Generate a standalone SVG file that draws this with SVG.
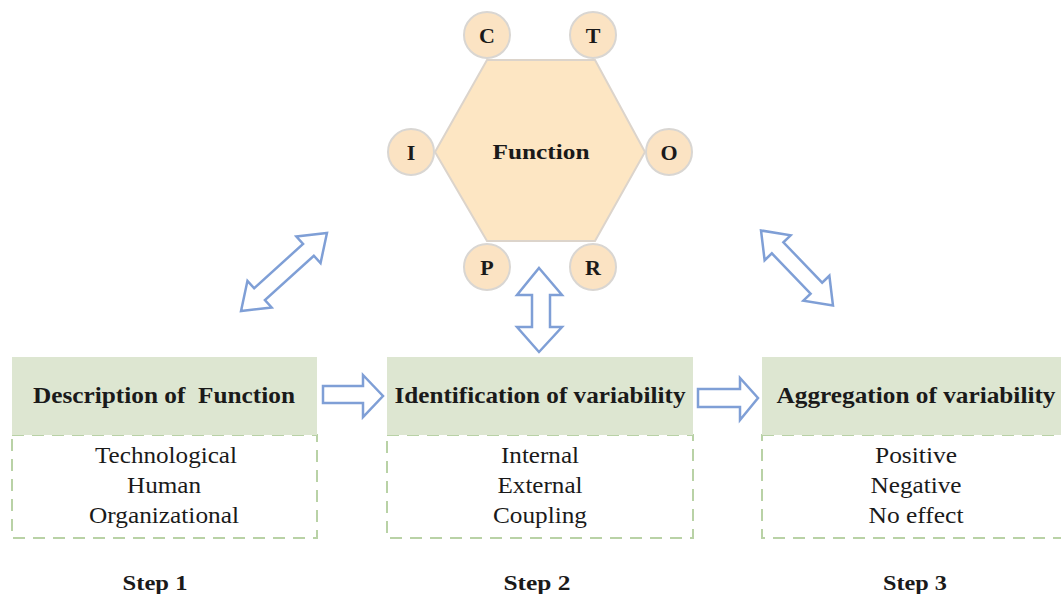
<svg xmlns="http://www.w3.org/2000/svg" width="1061" height="594" viewBox="0 0 1061 594">
<defs>
<style>
.hdr{fill:#dde6d1;stroke:none}
.dash{fill:#fff;stroke:#b9d2a6;stroke-width:2;stroke-dasharray:12 8}
.ht{font-family:"Liberation Serif",serif;font-weight:bold;font-size:23px;fill:#1a1a1a;text-anchor:middle}
.st{font-family:"Liberation Serif",serif;font-size:23px;fill:#1a1a1a;text-anchor:middle}
.step{font-family:"Liberation Serif",serif;font-weight:bold;font-size:22px;fill:#1a1a1a;text-anchor:middle}
.cir{fill:#fbe3c3;stroke:#d9d6d2;stroke-width:2}
.ct{font-family:"Liberation Serif",serif;font-weight:bold;font-size:22px;fill:#1a1a1a;text-anchor:middle}
.arr{fill:#fff;stroke:#7f9fd6;stroke-width:2.5;stroke-linejoin:miter}
</style>
</defs>
<rect width="1061" height="594" fill="#fff"/>
<g id="function">
<polygon points="487,60 595,60 645,152 595,241 487,241 435,152" fill="#fde6c3" stroke="#dcd4cb" stroke-width="2"/>
<text class="ct" x="541" y="159" textLength="97" lengthAdjust="spacingAndGlyphs">Function</text>
</g>
<g id="node-C"><circle class="cir" cx="487" cy="35" r="23"/><text class="ct" x="487" y="43">C</text></g>
<g id="node-T"><circle class="cir" cx="593" cy="35" r="23"/><text class="ct" x="593" y="43">T</text></g>
<g id="node-I"><circle class="cir" cx="411" cy="152" r="23"/><text class="ct" x="411" y="160">I</text></g>
<g id="node-O"><circle class="cir" cx="669" cy="152" r="23"/><text class="ct" x="669" y="160">O</text></g>
<g id="node-P"><circle class="cir" cx="487" cy="267" r="23"/><text class="ct" x="487" y="275">P</text></g>
<g id="node-R"><circle class="cir" cx="593" cy="267" r="23"/><text class="ct" x="593" y="275">R</text></g>

<g id="step1">
<rect class="dash" x="12" y="435" width="305" height="103"/>
<rect class="hdr" x="12" y="357" width="305" height="78"/>
<text class="ht" x="164" y="403" textLength="262" lengthAdjust="spacingAndGlyphs" xml:space="preserve">Description of  Function</text>
<text class="st" x="166" y="463" textLength="142" lengthAdjust="spacingAndGlyphs">Technological</text>
<text class="st" x="164" y="493" textLength="74" lengthAdjust="spacingAndGlyphs">Human</text>
<text class="st" x="164" y="523" textLength="150" lengthAdjust="spacingAndGlyphs">Organizational</text>
<text class="step" x="155" y="590" textLength="65" lengthAdjust="spacingAndGlyphs">Step 1</text>
</g>
<g id="step2">
<rect class="dash" x="387" y="435" width="306" height="103"/>
<rect class="hdr" x="387" y="357" width="306" height="78"/>
<text class="ht" x="540" y="403" textLength="291" lengthAdjust="spacingAndGlyphs">Identification of variability</text>
<text class="st" x="540" y="463" textLength="78" lengthAdjust="spacingAndGlyphs">Internal</text>
<text class="st" x="540" y="493" textLength="85" lengthAdjust="spacingAndGlyphs">External</text>
<text class="st" x="540" y="523" textLength="94" lengthAdjust="spacingAndGlyphs">Coupling</text>
<text class="step" x="537" y="590" textLength="67" lengthAdjust="spacingAndGlyphs">Step 2</text>
</g>
<g id="step3">
<rect class="dash" x="762" y="435" width="310" height="103"/>
<rect class="hdr" x="762" y="357" width="310" height="78"/>
<text class="ht" x="916" y="403" textLength="279" lengthAdjust="spacingAndGlyphs">Aggregation of variability</text>
<text class="st" x="916" y="463" textLength="82" lengthAdjust="spacingAndGlyphs">Positive</text>
<text class="st" x="916" y="493" textLength="91" lengthAdjust="spacingAndGlyphs">Negative</text>
<text class="st" x="916" y="523" textLength="95" lengthAdjust="spacingAndGlyphs">No effect</text>
<text class="step" x="915" y="590" textLength="64" lengthAdjust="spacingAndGlyphs">Step 3</text>
</g>

<g id="connectors">
<polygon class="arr" points="323,386 363,386 363,375 383,396 363,417 363,403 323,403"/>
<polygon class="arr" points="698,389 740,389 740,378 758,398 740,420 740,407 698,407"/>
<polygon class="arr" points="539,268 562,295 550,295 550,327 562,327 539,352 517,327 532,327 532,295 517,295"/>
<g transform="translate(284,272) rotate(-42.2)">
<polygon class="arr" points="-58,0 -33,-18 -33,-8 33,-8 33,-18 58,0 33,18 33,8 -33,8 -33,18"/>
</g>
<g transform="translate(797,268) rotate(46.2)">
<polygon class="arr" points="-52,0 -28,-18 -28,-8 28,-8 28,-18 52,0 28,18 28,8 -28,8 -28,18"/>
</g>
</g>
</svg>
